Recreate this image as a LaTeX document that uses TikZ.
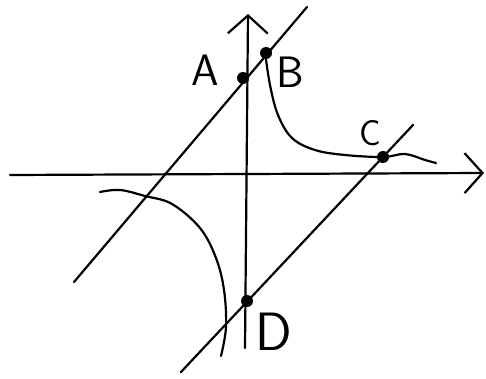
\documentclass[tikz,border=0pt]{standalone}
\usepackage{tikz}
\usetikzlibrary{arrows.meta, positioning}
\tikzset{
  skline/.style={line width=2.2pt, black, line cap=round, line join=round},
  skaxis/.style={skline, -{Straight Barb[length=18pt, width=40pt, line width=2.2pt]}},
  skdot/.style={circle, fill=black, minimum size=12pt, inner sep=0pt},
  sklabel/.style={font=\fontsize{44}{44}\selectfont\sffamily, inner sep=0pt},
}
\begin{document}
\begin{tikzpicture}[x=1pt, y=-1pt]
  \useasboundingbox (0,0) rectangle (486,379);
  % Achsen
  \coordinate (xl) at (10,175);
  \coordinate (xr) at (484,173);
  \coordinate (yb) at (245,348);
  \coordinate (yt) at (248,14);
  \draw[skaxis] (xl) -- (xr);
  \draw[skaxis] (yb) -- (yt);

  % Hyperbeläste
  \draw[skline] plot[smooth, tension=0.6] coordinates
    {(265,52) (270,85) (278,115) (292,138) (315,150) (345,155) (383,157) (405,154) (425,160) (436,163)};
  \draw[skline] plot[smooth, tension=0.6] coordinates
    {(100,192) (120,190) (145,196) (172,204) (200,228) (216,258) (224,290) (226,327) (221,356)};

  % Punkte
  \node[skdot] (A) at (243,78) {};
  \node[skdot] (B) at (266,53) {};
  \node[skdot] (C) at (383,157) {};
  \node[skdot] (D) at (247,301) {};

  % Geraden durch A, B und C, D
  \coordinate (g1s) at (74,282);
  \coordinate (g1e) at (307,7);
  \coordinate (g2s) at (181,372);
  \coordinate (g2e) at (413,125);
  \draw[skline] (g1s) -- (g1e);
  \draw[skline] (g2s) -- (g2e);

  % Beschriftung
  \node[sklabel] (labA) at (205,70) {A};
  \node[sklabel] (labB) at (290,72) {B};
  \node[sklabel, font=\fontsize{36}{36}\selectfont\sffamily] (labC) at (370,133) {C};
  \node[sklabel, font=\fontsize{54}{54}\selectfont\sffamily] (labD) at (274,332) {D};
\end{tikzpicture}
\end{document}
